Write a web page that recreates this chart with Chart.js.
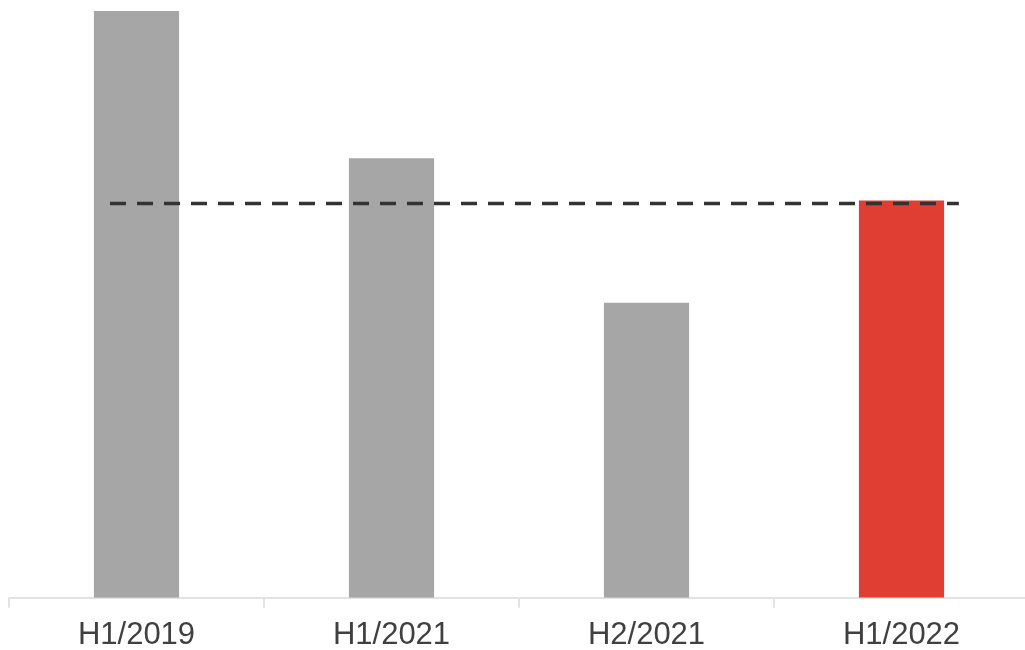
<!DOCTYPE html>
<html>
<head>
<meta charset="utf-8">
<script src="https://cdn.jsdelivr.net/npm/chart.js@4/dist/chart.umd.min.js"></script>
<style>
  html, body { margin: 0; padding: 0; background: #ffffff; overflow: hidden; }
  #wrap { position: relative; width: 1030px; height: 650px; }
</style>
</head>
<body>
<div id="wrap"><canvas id="chart"></canvas></div>
<script>
// Half-year periods and their values (index, first period = 100)
const categories = ['H1/2019', 'H1/2021', 'H2/2021', 'H1/2022'];
const values = [100, 74.9, 50.3, 67.7];
const barColors = ['#a6a6a6', '#a6a6a6', '#a6a6a6', '#e03e32'];

// Reference level drawn as a dashed line across the chart
const referenceLevel = 67.2;
const referenceSpan = [0.396, 3.725]; // start / end, in category units

const ctx = document.getElementById('chart');

new Chart(ctx, {
  type: 'bar',
  data: {
    labels: categories,
    datasets: [
      {
        type: 'line',
        xAxisID: 'xLine',
        data: referenceSpan.map(x => ({ x: x, y: referenceLevel })),
        borderColor: '#333333',
        borderWidth: 3.5,
        borderDash: [16, 11],
        pointRadius: 0,
        fill: false,
        order: 0
      },
      {
        type: 'bar',
        xAxisID: 'x',
        data: values,
        backgroundColor: barColors,
        grouped: false,
        categoryPercentage: 1,
        barPercentage: 0.334,
        order: 1
      }
    ]
  },
  options: {
    responsive: true,
    maintainAspectRatio: false,
    animation: false,
    layout: { padding: { left: 9, right: 1, top: 11, bottom: -13 } },
    plugins: {
      legend: { display: false },
      tooltip: { enabled: false }
    },
    scales: {
      x: {
        type: 'category',
        offset: true,
        border: { display: true, color: '#e3e3e3', width: 2 },
        grid: {
          offset: true,
          drawOnChartArea: false,
          drawTicks: true,
          tickLength: 10,
          color: '#e3e3e3',
          lineWidth: 2
        },
        ticks: {
          color: '#404040',
          padding: 9,
          font: { family: '"Liberation Sans", Arial, sans-serif', size: 31 }
        }
      },
      xLine: {
        type: 'linear',
        display: false,
        offset: false,
        grid: { offset: false },
        min: 0,
        max: 4
      },
      y: {
        display: false,
        min: 0,
        max: 100
      }
    }
  }
});
</script>
</body>
</html>
